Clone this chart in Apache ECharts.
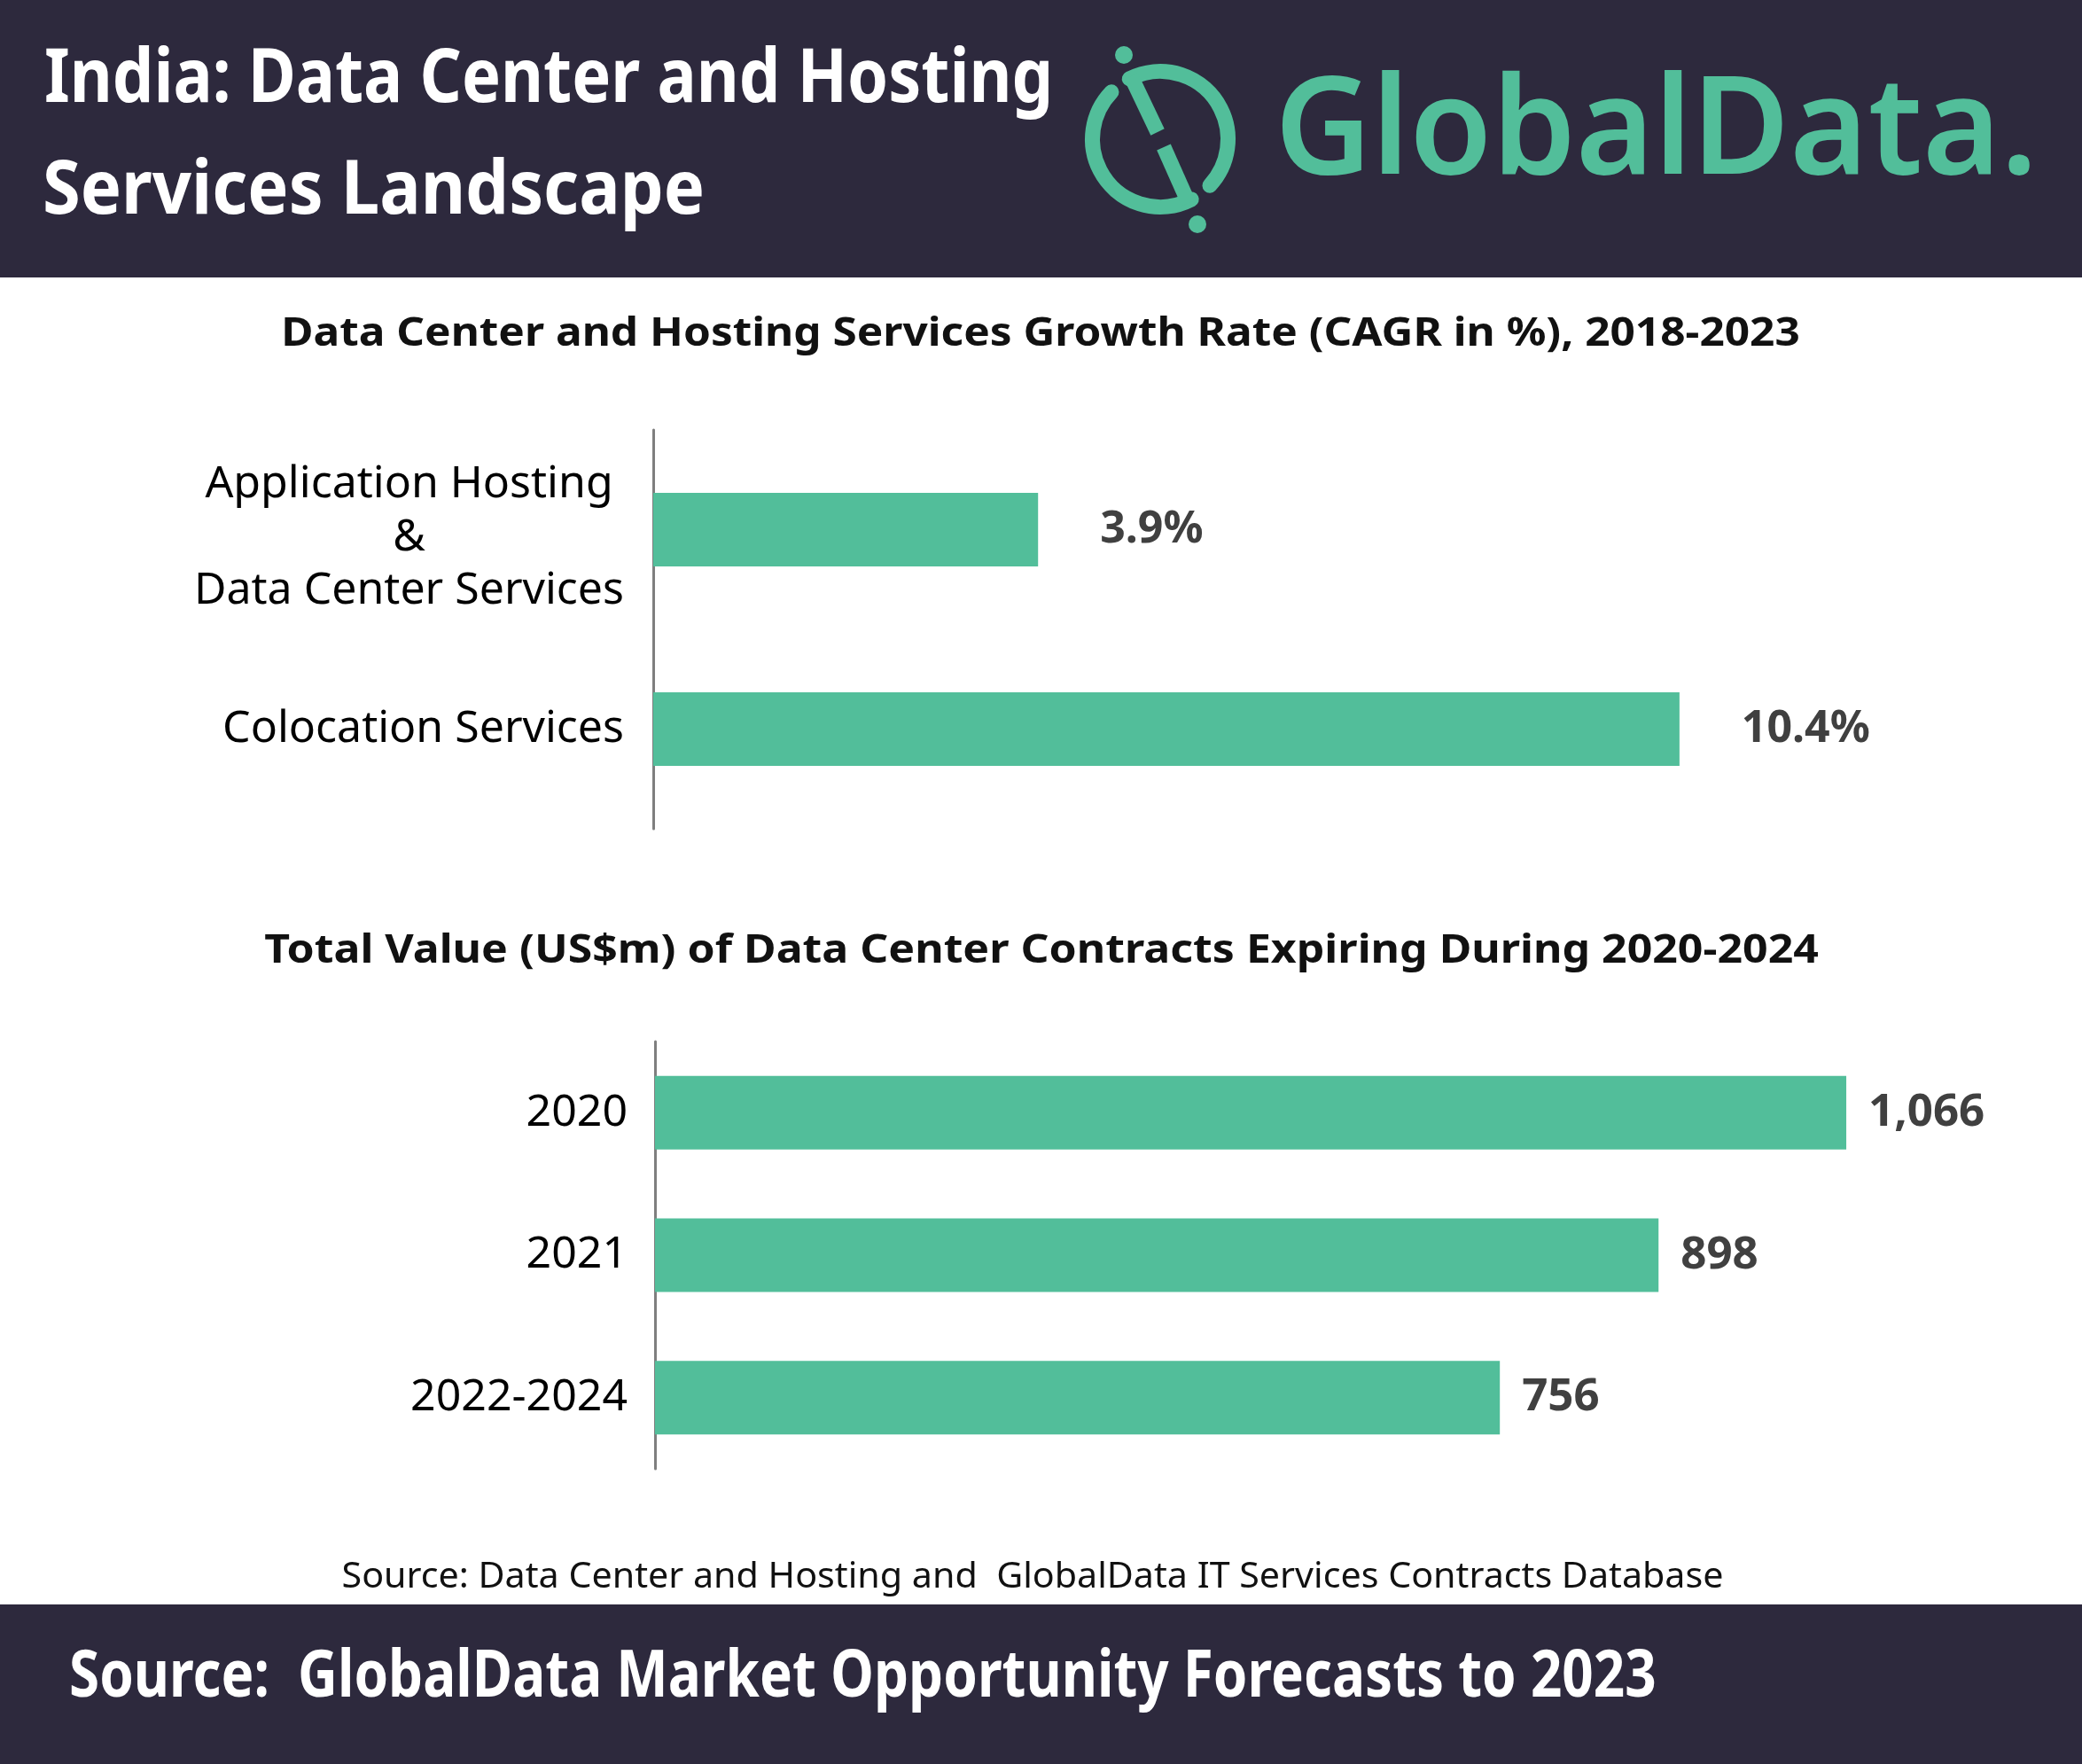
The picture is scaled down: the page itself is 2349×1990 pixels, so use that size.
<!DOCTYPE html>
<html>
<head>
<meta charset="utf-8">
<script src="https://cdn.jsdelivr.net/npm/echarts@6/dist/echarts.min.js"></script>
<style>
html,body{margin:0;padding:0;background:#fff;}
#chart{width:2349px;height:1990px;}
</style>
</head>
<body>
<div id="chart"></div>
<script>
// ---- Data ----
const growthCategories = ['Application Hosting\n&\nData Center Services', 'Colocation Services'];
const growthValues = [3.9, 10.4];
const contractCategories = ['2020', '2021', '2022-2024'];
const contractValues = [1066, 898, 756];

const headerTitle = ['India: Data Center and Hosting', 'Services Landscape'];
const chartTitle1 = 'Data Center and Hosting Services Growth Rate (CAGR in %), 2018-2023';
const chartTitle2 = 'Total Value (US$m) of Data Center Contracts Expiring During 2020-2024';
const sourceNote = 'Source: Data Center and Hosting and  GlobalData IT Services Contracts Database';
const footerText = 'Source:  GlobalData Market Opportunity Forecasts to 2023';
const brandText = 'GlobalData.';

// ---- Styles ----
const GREEN = '#52BE9A';
const NAVY = '#2D293D';
const body = "'Noto Sans', 'DejaVu Sans', sans-serif";
const deg = Math.PI / 180;

const chart = echarts.init(document.getElementById('chart'), null, {renderer: 'canvas'});

function catLabel(margin) {
  return {
    margin: margin,
    color: '#000',
    fontFamily: body,
    fontSize: 50,
    formatter: function (v) {
      const lines = v.split('\n');
      const txt = lines.map(function (s) { return '{c|' + s + '}'; }).join('\n');
      return lines.length > 1 ? '{s| }\n' + txt : txt;
    },
    rich: {
      c: {align: 'center', fontFamily: body, fontSize: 50, color: '#000', lineHeight: 60},
      s: {fontSize: 1, lineHeight: 18}
    }
  };
}

const option = {
  animation: false,
  backgroundColor: '#fff',
  grid: [
    {left: 737, top: 485, width: 1336, height: 450, containLabel: false, outerBoundsMode: 'none'},
    {left: 739, top: 1175, width: 1513, height: 482, containLabel: false, outerBoundsMode: 'none'}
  ],
  xAxis: [
    {gridIndex: 0, type: 'value', min: 0, max: 12, show: false},
    {gridIndex: 1, type: 'value', min: 0, max: 1200, show: false}
  ],
  yAxis: [
    {
      gridIndex: 0, type: 'category', data: growthCategories, inverse: true,
      axisLine: {show: true, lineStyle: {color: '#7f7f7f', width: 3}},
      axisTick: {show: false},
      axisLabel: catLabel(33)
    },
    {
      gridIndex: 1, type: 'category', data: contractCategories, inverse: true,
      axisLine: {show: true, lineStyle: {color: '#7f7f7f', width: 3}},
      axisTick: {show: false},
      axisLabel: catLabel(31)
    }
  ],
  series: [
    {
      type: 'bar', xAxisIndex: 0, yAxisIndex: 0, data: growthValues,
      barWidth: 83,
      itemStyle: {color: GREEN},
      label: {
        show: true, position: 'right', distance: 70,
        formatter: function (p) { return p.value.toFixed(1) + '%'; },
        fontFamily: body, fontSize: 50, fontWeight: 'bold', color: '#404040'
      }
    },
    {
      type: 'bar', xAxisIndex: 1, yAxisIndex: 1, data: contractValues,
      barWidth: 83,
      itemStyle: {color: GREEN},
      label: {
        show: true, position: 'right', distance: 25,
        formatter: function (p) { return p.value.toLocaleString('en-US'); },
        fontFamily: body, fontSize: 51, fontWeight: 'bold', color: '#404040'
      }
    }
  ],
  graphic: [
    // header band
    {type: 'rect', z: 0, shape: {x: 0, y: 0, width: 2349, height: 313}, style: {fill: NAVY}},
    {type: 'text', x: 50, y: 91, scaleX: 0.869, z: 10, style: {text: headerTitle[0], fill: '#fff', font: 'bold 85px ' + body, align: 'left', verticalAlign: 'middle'}},
    {type: 'text', x: 48, y: 217, scaleX: 0.913, z: 10, style: {text: headerTitle[1], fill: '#fff', font: 'bold 85px ' + body, align: 'left', verticalAlign: 'middle'}},
    // logo icon
    {type: 'arc', z: 10, shape: {cx: 1309, cy: 157, r: 76.5, startAngle: -117 * deg, endAngle: 43 * deg, clockwise: true},
      style: {stroke: GREEN, lineWidth: 17, lineCap: 'round', fill: null}},
    {type: 'arc', z: 10, shape: {cx: 1309, cy: 157, r: 76.5, startAngle: 62.6 * deg, endAngle: 224 * deg, clockwise: true},
      style: {stroke: GREEN, lineWidth: 17, lineCap: 'round', fill: null}},
    {type: 'line', z: 10, shape: {x1: 1276, y1: 86, x2: 1306, y2: 149}, style: {stroke: GREEN, lineWidth: 17, lineCap: 'butt'}},
    {type: 'line', z: 10, shape: {x1: 1313, y1: 166, x2: 1341, y2: 229}, style: {stroke: GREEN, lineWidth: 17, lineCap: 'butt'}},
    {type: 'circle', z: 10, shape: {cx: 1268, cy: 62, r: 10}, style: {fill: GREEN}},
    {type: 'circle', z: 10, shape: {cx: 1351, cy: 253, r: 10}, style: {fill: GREEN}},
    {type: 'text', x: 1438, y: 152, z: 10, scaleX: 0.98, style: {text: brandText, fill: GREEN, font: '600 154px ' + body, align: 'left', verticalAlign: 'middle'}},
    // chart titles
    {type: 'text', x: 1174, y: 377, scaleX: 1.126, z: 10, style: {text: chartTitle1, fill: '#111', font: 'bold 44px ' + body, align: 'center', verticalAlign: 'middle'}},
    {type: 'text', x: 1175, y: 1073, scaleX: 1.136, z: 10, style: {text: chartTitle2, fill: '#111', font: 'bold 44px ' + body, align: 'center', verticalAlign: 'middle'}},
    // source note
    {type: 'text', x: 1165, y: 1780, scaleX: 1.03, z: 10, style: {text: sourceNote, fill: '#111', font: '40px ' + body, align: 'center', verticalAlign: 'middle'}},
    // footer band
    {type: 'rect', z: 0, shape: {x: 0, y: 1810, width: 2349, height: 180}, style: {fill: NAVY}},
    {type: 'text', x: 78, y: 1893, scaleX: 0.837, z: 10, style: {text: footerText, fill: '#fff', font: 'bold 74px ' + body, align: 'left', verticalAlign: 'middle'}}
  ]
};

chart.setOption(option);
</script>
</body>
</html>
